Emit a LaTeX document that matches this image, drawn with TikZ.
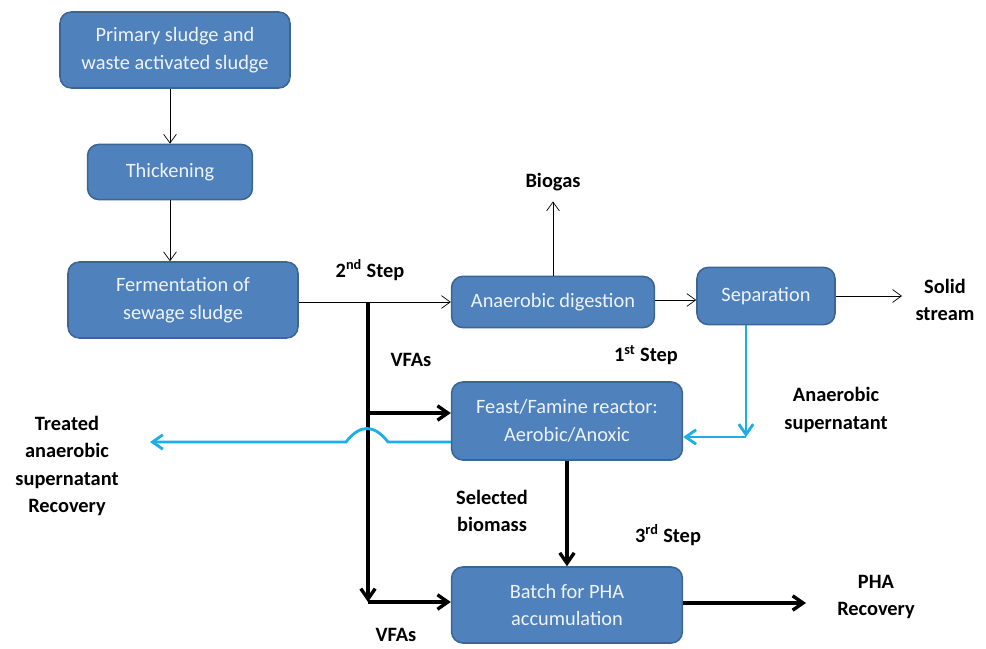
\documentclass[tikz,border=0pt]{standalone}
\usepackage{fontspec}
\setmainfont{Carlito}
\usetikzlibrary{arrows.meta,positioning}
\definecolor{BoxFill}{HTML}{4F81BD}
\definecolor{BoxLine}{HTML}{3A6595}
\definecolor{BoxText}{HTML}{EEF3FA}
\definecolor{FlowBlue}{HTML}{1BAEE8}
\tikzset{
  flow/box/.style={
    draw=BoxLine, line width=1.1pt, fill=BoxFill, rounded corners=8pt,
    text=BoxText, align=center, font=\fontsize{14.5}{19.5}\selectfont,
    inner sep=0pt
  },
  flow/label/.style={font=\fontsize{14.5}{19.5}\selectfont\bfseries, align=center},
  flow/thin/.style={-{Straight Barb[length=2.2mm,width=3.2mm]}, line width=.5pt},
  flow/bold/.style={-{Straight Barb[length=2.6mm,width=3.6mm]}, line width=2.4pt},
  flow/blue/.style={-{Straight Barb[length=2.6mm,width=3.6mm]}, line width=2pt,
    draw=FlowBlue}
}
\begin{document}
\begin{tikzpicture}[x=0.25mm,y=-0.25mm]
  \useasboundingbox (0,0) rectangle (986,649);
  % process boxes
  \node[flow/box,minimum width=57.5mm,minimum height=19mm] (primary) at (175,50)
    {Primary sludge and\\waste activated sludge};
  \node[flow/box,minimum width=41.2mm,minimum height=13.8mm] (thick) at (170,172)
    {Thickening};
  \node[flow/box,minimum width=57.5mm,minimum height=19mm] (ferm) at (183,300)
    {Fermentation of\\sewage sludge};
  \node[flow/box,minimum width=50.7mm,minimum height=12.8mm] (ad) at (553,302)
    {Anaerobic digestion};
  \node[flow/box,minimum width=34.5mm,minimum height=14.3mm] (sep) at (766,296)
    {Separation};
  \node[flow/box,minimum width=57.7mm,minimum height=19.5mm] (feast) at (567,421)
    {Feast/Famine reactor:\\Aerobic/Anoxic};
  \node[flow/box,minimum width=57.7mm,minimum height=19mm] (batch) at (567,605)
    {Batch for PHA\\accumulation};
  % free labels
  \node[flow/label] (biogas) at (553,182) {Biogas};
  \node[flow/label] (solid) at (945,300) {Solid\\stream};
  \node[flow/label] (step2) at (370,270) {2\textsuperscript{nd} Step};
  \node[flow/label] (vfa1) at (411,360) {VFAs};
  \node[flow/label] (step1) at (646,355) {1\textsuperscript{st} Step};
  \node[flow/label] (anasup) at (836,410) {Anaerobic\\supernatant};
  \node[flow/label] (treated) at (67,466)
    {Treated\\anaerobic\\supernatant\\Recovery};
  \node[flow/label] (selected) at (492,511) {Selected\\biomass};
  \node[flow/label] (step3) at (668,535) {3\textsuperscript{rd} Step};
  \node[flow/label] (vfa2) at (396,635) {VFAs};
  \node[flow/label] (pha) at (876,597) {PHA\\Recovery};
  % junction points
  \coordinate (split) at (368,302);
  \coordinate (fork) at (368,413);
  \coordinate (vfaturn) at (368,602);
  \coordinate (supturn) at (746,437);
  \coordinate (treatend) at (150,442);
  \coordinate (phaend) at (806,603);
  \coordinate (solidend) at (902,295);
  % thin flows
  \draw[flow/thin] (primary.south -| thick) -- (thick.north);
  \draw[flow/thin] (thick) -- (ferm.north -| thick);
  \draw[flow/thin] (ferm.east |- ad) -- (ad.west);
  \draw[flow/thin] (ad.north) -- ([yshift=-4pt]biogas.south);
  \draw[flow/thin] (ad.east |- 0,300) -- (sep.west |- 0,300);
  \draw[flow/thin] (sep.east) -- (solidend |- sep.east);
  % VFAs and biomass
  \draw[line width=2.4pt] (split) -- (fork);
  \draw[flow/bold] (fork) -- (feast.west |- fork);
  \draw[flow/bold] (fork) -- (vfaturn);
  \draw[flow/bold] (vfaturn) -- (batch.west |- vfaturn);
  \draw[flow/bold] (feast) -- (batch);
  \draw[flow/bold] (batch.east |- phaend) -- (phaend);
  % supernatant
  \draw[flow/blue] (sep.south -| supturn) -- (supturn);
  \draw[flow/blue] (supturn) -- (feast.east |- supturn);
  \draw[flow/blue] (feast.west |- 0,442) -- (388,442)
    .. controls (374,424) and (360,424) .. (346,442) -- (treatend);
\end{tikzpicture}
\end{document}
